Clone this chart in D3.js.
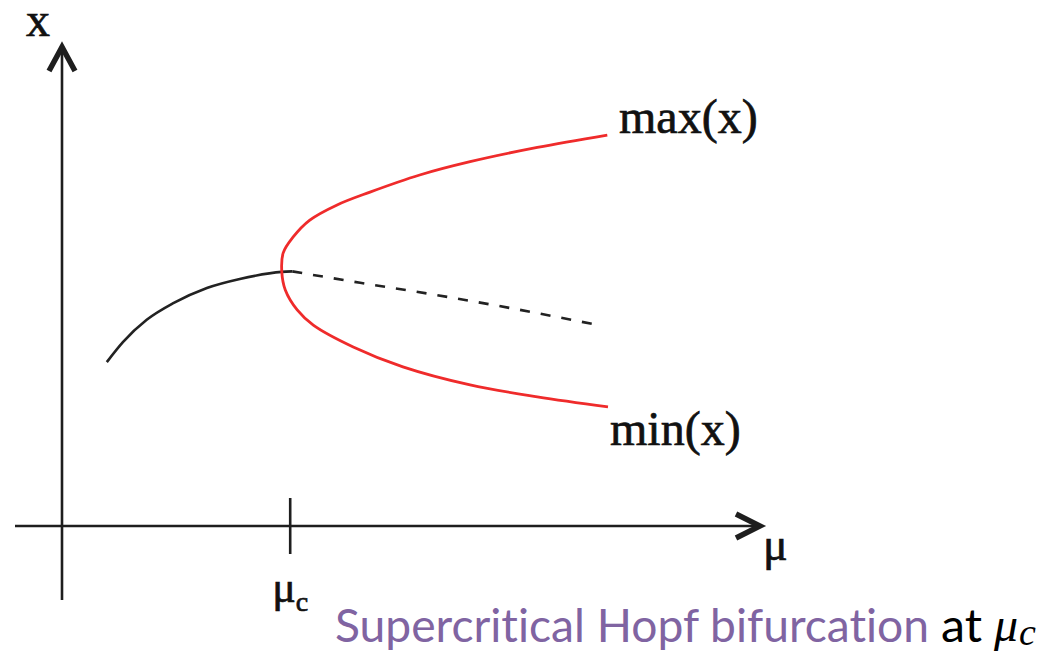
<!DOCTYPE html>
<html>
<head>
<meta charset="utf-8">
<script src="https://cdn.jsdelivr.net/npm/d3@7"></script>
<style>
  html, body { margin: 0; padding: 0; background: #fff; }
  svg { display: block; }
  text { font-variant-ligatures: none; font-feature-settings: "liga" 0, "clig" 0; }
</style>
</head>
<body>
<svg id="chart" width="1057" height="653"></svg>
<script>
// Stable fixed point (solid), before the bifurcation
const muStable = [0.64, 0.87, 1.21, 1.59, 2.07, 2.54, 3.14, 3.29];
const xStable  = [3.45, 3.87, 4.34, 4.69, 5.01, 5.20, 5.35, 5.36];

// Unstable fixed point (dashed), after the bifurcation
const muUnstable = [3.29, 4.26, 5.36, 6.47, 7.59];
const xUnstable  = [5.36, 5.12, 4.86, 4.57, 4.25];

// Limit-cycle amplitude: upper branch max(x), lower branch min(x)
const muMax = [3.14, 3.16, 3.30, 3.54, 3.93, 4.40, 5.11, 5.83, 6.79, 7.79];
const xMax  = [5.35, 5.75, 6.08, 6.44, 6.76, 7.03, 7.39, 7.67, 7.97, 8.23];
const muMin = [3.14, 3.19, 3.36, 3.59, 4.16, 4.87, 5.83, 6.79, 7.80];
const xMin  = [5.35, 4.97, 4.55, 4.23, 3.77, 3.35, 2.97, 2.72, 2.51];

// Critical parameter value and text
const muCritical = 3.26;
const branchLabels = ["max(x)", "min(x)"];
const captionMain = "Supercritical Hopf bifurcation";
const captionAt = "at";

const svg = d3.select("#chart");

const sx = d3.scaleLinear().domain([0, 10]).range([62, 762]);
const sy = d3.scaleLinear().domain([0, 10]).range([526, 51]);

const axisColor = "#1e1e1e";

// Axes extents in data units
const muAxisStart = sx.invert(15), muAxisEnd = sx.invert(763);
const xAxisStart = sy.invert(600), xAxisEnd = sy.invert(44);

// horizontal axis (mu)
svg.append("line")
  .attr("x1", sx(muAxisStart)).attr("x2", sx(muAxisEnd) - 4)
  .attr("y1", sy(0)).attr("y2", sy(0))
  .attr("stroke", axisColor).attr("stroke-width", 2.6);

// vertical axis (x)
svg.append("line")
  .attr("x1", sx(0)).attr("x2", sx(0))
  .attr("y1", sy(xAxisStart)).attr("y2", sy(xAxisEnd) + 4)
  .attr("stroke", axisColor).attr("stroke-width", 2.6);

// arrowheads
const tipR = [sx(muAxisEnd), sy(0)];
svg.append("path")
  .attr("d", `M${tipR[0] - 27},${tipR[1] - 12} L${tipR[0] - 3},${tipR[1]} L${tipR[0] - 27},${tipR[1] + 12}`)
  .attr("fill", "none").attr("stroke", axisColor).attr("stroke-width", 5.5)
  .attr("stroke-linejoin", "miter").attr("stroke-miterlimit", 10);
const tipT = [sx(0), sy(xAxisEnd)];
svg.append("path")
  .attr("d", `M${tipT[0] - 13},${tipT[1] + 27} L${tipT[0]},${tipT[1] + 3} L${tipT[0] + 13},${tipT[1] + 27}`)
  .attr("fill", "none").attr("stroke", axisColor).attr("stroke-width", 5.5)
  .attr("stroke-linejoin", "miter").attr("stroke-miterlimit", 10);

// tick at the critical value
svg.append("line")
  .attr("x1", sx(muCritical)).attr("x2", sx(muCritical))
  .attr("y1", sy(0) - 28).attr("y2", sy(0) + 28)
  .attr("stroke", axisColor).attr("stroke-width", 2.6);

const zip = (a, b) => a.map((v, i) => [v, b[i]]);
const lineMono = d3.line().x(d => sx(d[0])).y(d => sy(d[1])).curve(d3.curveMonotoneX);
const lineCR = d3.line().x(d => sx(d[0])).y(d => sy(d[1])).curve(d3.curveCatmullRom.alpha(0.5));

// stable branch
svg.append("path")
  .attr("d", lineMono(zip(muStable, xStable)))
  .attr("fill", "none").attr("stroke", "#222").attr("stroke-width", 2.6);

// unstable branch
svg.append("path")
  .attr("d", lineMono(zip(muUnstable, xUnstable)))
  .attr("fill", "none").attr("stroke", "#222").attr("stroke-width", 2.6)
  .attr("stroke-dasharray", "10,11");

// limit cycle envelope: lower branch reversed, then upper branch, as one curve
const envelope = zip(muMin, xMin).reverse().concat(zip(muMax, xMax).slice(1));
svg.append("path")
  .attr("d", lineCR(envelope))
  .attr("fill", "none").attr("stroke", "#ef2b2b").attr("stroke-width", 2.8);

const serif = "'Liberation Serif', 'Times New Roman', serif";
const ink = "#111";

function serifLabel(x, y, size, str) {
  return svg.append("text").attr("x", x).attr("y", y)
    .attr("font-family", serif).attr("font-size", size)
    .attr("fill", ink).attr("stroke", ink).attr("stroke-width", 0.7)
    .text(str);
}

// axis labels
serifLabel(26, 36, 48, "x");
serifLabel(763, 560, 46, "μ");

const muc = svg.append("text").attr("x", sx(muCritical) - 18).attr("y", 602)
  .attr("font-family", serif).attr("font-size", 44)
  .attr("fill", ink).attr("stroke", ink).attr("stroke-width", 0.7);
muc.append("tspan").text("μ");
muc.append("tspan").attr("font-size", 28).attr("dy", 9).text("c");

// branch labels
serifLabel(619, 133, 48, branchLabels[0]);
serifLabel(610, 445, 48, branchLabels[1]);

// caption
const sans = "Lato, 'Open Sans', sans-serif";
svg.append("text").attr("x", 335).attr("y", 642)
  .attr("font-family", sans).attr("font-size", 47).attr("fill", "#8064a2")
  .attr("textLength", 594).attr("lengthAdjust", "spacingAndGlyphs")
  .text(captionMain);
svg.append("text").attr("x", 941).attr("y", 642)
  .attr("font-family", sans).attr("font-size", 47).attr("fill", "#000")
  .attr("textLength", 41).attr("lengthAdjust", "spacingAndGlyphs")
  .text(captionAt);
const capMu = svg.append("text").attr("x", 994).attr("y", 641)
  .attr("font-family", serif).attr("font-size", 48).attr("font-style", "italic").attr("fill", "#000");
capMu.append("tspan").text("μ");
capMu.append("tspan").attr("font-size", 38).attr("dy", 4).attr("dx", 1).text("c");
</script>
</body>
</html>
